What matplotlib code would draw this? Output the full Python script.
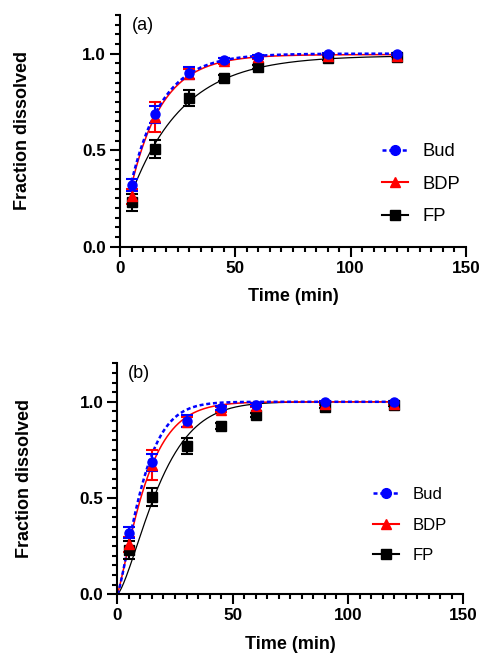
import numpy as np
import matplotlib
matplotlib.use("Agg")
import matplotlib.pyplot as plt
from matplotlib.lines import Line2D
from matplotlib.ticker import MultipleLocator

plt.rcParams['font.family'] = ['Liberation Sans', 'DejaVu Sans']

# sampling times (min)
time_min = [5, 15, 30, 45, 60, 90, 120]

# mean fraction dissolved and error
bud = [0.32, 0.685, 0.90, 0.967, 0.985, 0.998, 0.998]
bud_err = [0.03, 0.045, 0.03, 0.012, 0.008, 0.005, 0.005]
bdp = [0.26, 0.67, 0.895, 0.96, 0.98, 0.99, 0.99]
bdp_err = [0.04, 0.078, 0.025, 0.015, 0.008, 0.005, 0.005]
fp = [0.23, 0.505, 0.77, 0.875, 0.93, 0.975, 0.985]
fp_err = [0.045, 0.048, 0.04, 0.015, 0.01, 0.008, 0.005]

# (a) one-phase association fits: y0, plateau, k
fit_a = {'Bud': (0.04, 1.0, 0.074),
         'BDP': (0.02, 0.995, 0.073),
         'FP': (0.10, 0.99, 0.044)}
# (b) Weibull fits: scale, shape
fit_b = {'Bud': (12.3, 1.3),
         'BDP': (13.8, 1.2),
         'FP': (20.5, 1.4)}

names = ['Bud', 'BDP', 'FP']
colors = {'Bud': 'blue', 'BDP': 'red', 'FP': 'black'}
markers = {'Bud': 'o', 'BDP': '^', 'FP': 's'}
lstyles = {'Bud': (0, (1.6, 1.1)), 'BDP': '-', 'FP': '-'}
lwidths = {'Bud': 1.8, 'BDP': 1.1, 'FP': 0.9}
means = {'Bud': bud, 'BDP': bdp, 'FP': fp}
errs = {'Bud': bud_err, 'BDP': bdp_err, 'FP': fp_err}

W, H = 481, 655
fig = plt.figure(figsize=(W / 100, H / 100), dpi=100)
ax_a = fig.add_axes([120 / W, 1 - 246.7 / H, 346 / W, 231.7 / H])
ax_b = fig.add_axes([117.3 / W, 1 - 594.3 / H, 346 / W, 231 / H])


def style_axes(ax, lab_x):
    ax.set_xlim(0, 150)
    ax.set_ylim(0, 1.2)
    for s in ['top', 'right']:
        ax.spines[s].set_visible(False)
    for s in ['left', 'bottom']:
        ax.spines[s].set_linewidth(1.5)
    ax.xaxis.set_major_locator(MultipleLocator(50))
    ax.xaxis.set_minor_locator(MultipleLocator(5))
    ax.yaxis.set_major_locator(MultipleLocator(0.5))
    ax.yaxis.set_minor_locator(MultipleLocator(0.05))
    ax.yaxis.set_major_formatter(plt.FormatStrFormatter('%.1f'))
    ax.tick_params(which='major', length=7, width=1.5, labelsize=12.3, pad=3)
    ax.tick_params(which='minor', length=3.6, width=1.5)
    for lab in ax.get_xticklabels() + ax.get_yticklabels():
        lab.set_fontweight('bold')
    ax.set_xlabel('Time (min)', fontsize=13, fontweight='bold')
    ax.set_ylabel('Fraction dissolved', fontsize=13, fontweight='bold')
    ax.xaxis.set_label_coords(0.5, -0.217)
    ax.yaxis.set_label_coords(lab_x, 0.5)
    ax.xaxis.label.set_va('center')
    ax.yaxis.label.set_va('center')


def draw_points(ax):
    for n in ['FP', 'BDP', 'Bud']:
        ax.errorbar(time_min, means[n], yerr=errs[n], fmt=markers[n], color=colors[n],
                    ms=6.5, elinewidth=1.5, capsize=4, capthick=1.5, zorder=3)


# panel (a)
ta = np.linspace(5, 120, 300)
for n in ['FP', 'BDP', 'Bud']:
    y0, plat, k = fit_a[n]
    ax_a.plot(ta, y0 + (plat - y0) * (1 - np.exp(-k * ta)), color=colors[n],
              ls=lstyles[n], lw=lwidths[n], zorder=2)
draw_points(ax_a)
style_axes(ax_a, -0.283)
ax_a.text(0.035, 0.953, '(a)', transform=ax_a.transAxes, fontsize=13, va='center')

# panel (b)
tb = np.linspace(0, 120, 400)
for n in ['FP', 'BDP', 'Bud']:
    a, b = fit_b[n]
    ax_b.plot(tb, 1 - np.exp(-(tb / a) ** b), color=colors[n],
              ls=lstyles[n], lw=lwidths[n], zorder=2)
draw_points(ax_b)
style_axes(ax_b, -0.267)
ax_b.text(0.031, 0.958, '(b)', transform=ax_b.transAxes, fontsize=13, va='center')


def legend_handles():
    return [Line2D([], [], color=colors[n], ls=lstyles[n], lw=1.8 if n == 'Bud' else 1.5,
                   marker=markers[n], ms=7) for n in names]


ax_a.legend(legend_handles(), names, loc='center left', bbox_to_anchor=(0.757, 0.27),
            frameon=False, fontsize=13.2, handlelength=1.4, handletextpad=0.8,
            labelspacing=0.85, borderpad=0, borderaxespad=0)
ax_b.legend(legend_handles(), names, loc='center left', bbox_to_anchor=(0.739, 0.30),
            frameon=False, fontsize=12, handlelength=1.55, handletextpad=0.8,
            labelspacing=0.95, borderpad=0, borderaxespad=0)

fig.savefig('out.png', dpi=100)
